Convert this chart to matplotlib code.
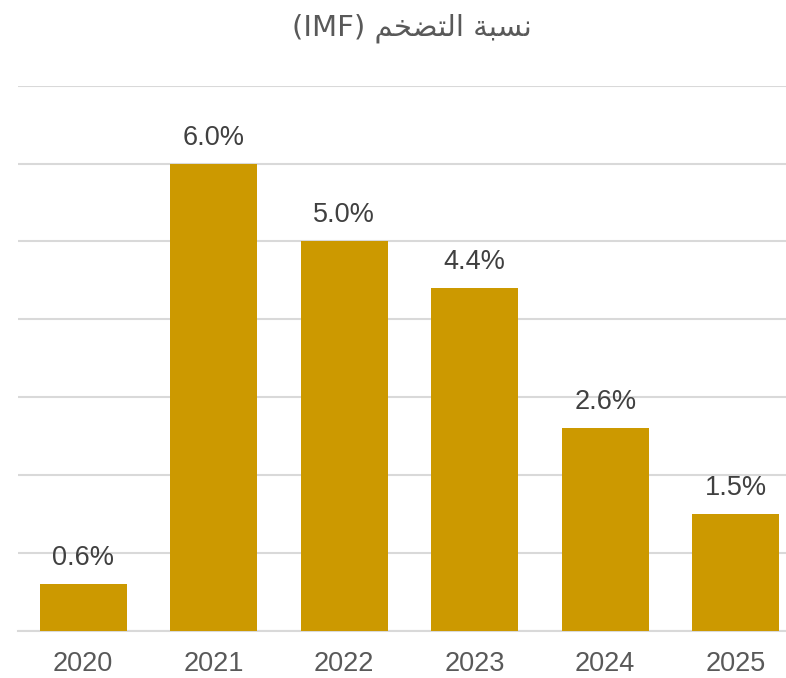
import matplotlib
matplotlib.use("Agg")
import matplotlib.pyplot as plt

years = ["2020", "2021", "2022", "2023", "2024", "2025"]
inflation = [0.6, 6.0, 5.0, 4.4, 2.6, 1.5]
value_labels = ["0.6%", "6.0%", "5.0%", "4.4%", "2.6%", "1.5%"]

# "نسبة التضخم (IMF)" written in shaped presentation forms, visual order,
# because matplotlib does no Arabic shaping or bidi
title = "(IMF) \uFEE2\uFEA8\uFEC0\uFE98\uFEDF\uFE8D \uFE94\uFE92\uFEB4\uFEE7"

plt.rcParams['font.family'] = ['Liberation Sans', 'DejaVu Sans']

W, H = 786, 678
fig = plt.figure(figsize=(W / 100, H / 100), dpi=100)

left, right = 18, 801
bottom, top = 630.5, 85.7
ax = fig.add_axes([left / W, 1 - bottom / H, (right - left) / W, (bottom - top) / H])

x = range(len(years))
ax.bar(x, inflation, width=0.665, color="#CC9900", zorder=3)

for xi, v, lab in zip(x, inflation, value_labels):
    ax.annotate(lab, (xi, v), xytext=(0, 13.7), textcoords="offset points",
                ha="center", va="baseline", fontsize=19.5, color="#404040")

ax.set_xlim(-0.5, len(years) - 0.5)
ax.set_ylim(0, 7)
ax.set_yticks(range(0, 8))
ax.set_yticklabels([])
ax.set_xticks(list(x))
ax.set_xticklabels(years, fontsize=19.5, color="#595959")
ax.tick_params(axis="both", length=0)
ax.tick_params(axis="x", pad=14.5)

ax.grid(axis="y", color="#D9D9D9", linewidth=1.5, zorder=0)
for s in ["top", "right", "left"]:
    ax.spines[s].set_visible(False)
ax.spines["bottom"].set_color("#D9D9D9")
ax.spines["bottom"].set_linewidth(1.5)

fig.text(412 / W, 1 - 28 / H, title, ha="center", va="center",
         fontsize=21, color="#595959", family=["DejaVu Sans"])

fig.savefig("out.png", dpi=100)
